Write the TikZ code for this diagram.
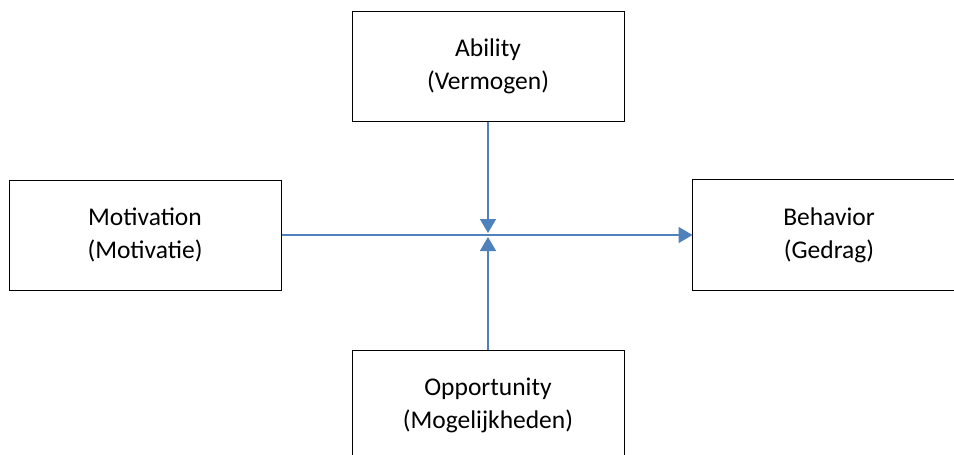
\documentclass[tikz,border=0pt]{standalone}
\usepackage{fontspec}
\setmainfont{Carlito}
\usetikzlibrary{arrows.meta}
\definecolor{flowblue}{RGB}{79,129,189}
\tikzset{
  factor/.style={draw, line width=1pt, minimum width=272pt, minimum height=110pt,
    align=center, font=\fontsize{25.5}{33}\selectfont,
    execute at begin node={\rule{0pt}{26pt}}},
  flow/.style={draw=flowblue, line width=1.6pt, -{Triangle[length=14pt, width=16pt]}}
}
\begin{document}
\begin{tikzpicture}[x=1pt, y=-1pt]
          \useasboundingbox (0,0) rectangle (954,455);

          \node [factor] (ability) at (488, 66) {Ability\\(Vermogen)};
          \node [factor] (motivation) at (145, 235) {Motivation\\(Motivatie)};
          \node [factor, draw=none] (behavior) at (829, 235) {Behavior\\(Gedrag)};
          \node [factor] (opportunity) at (488, 405) {Opportunity\\(Mogelijkheden)};

          % the behavior box runs off the right edge
          \draw [line width=1pt] (behavior.north east) -- (behavior.north west)
            -- (behavior.south west) -- (behavior.south east);

          \coordinate (top) at (488, 233);
          \coordinate (bottom) at (488, 237);

          \draw [flow] (motivation.east) -- (behavior.west);
          \draw [flow] (ability.south) -- (top);
          \draw [flow] (opportunity.north) -- (bottom);
        \end{tikzpicture}
\end{document}
